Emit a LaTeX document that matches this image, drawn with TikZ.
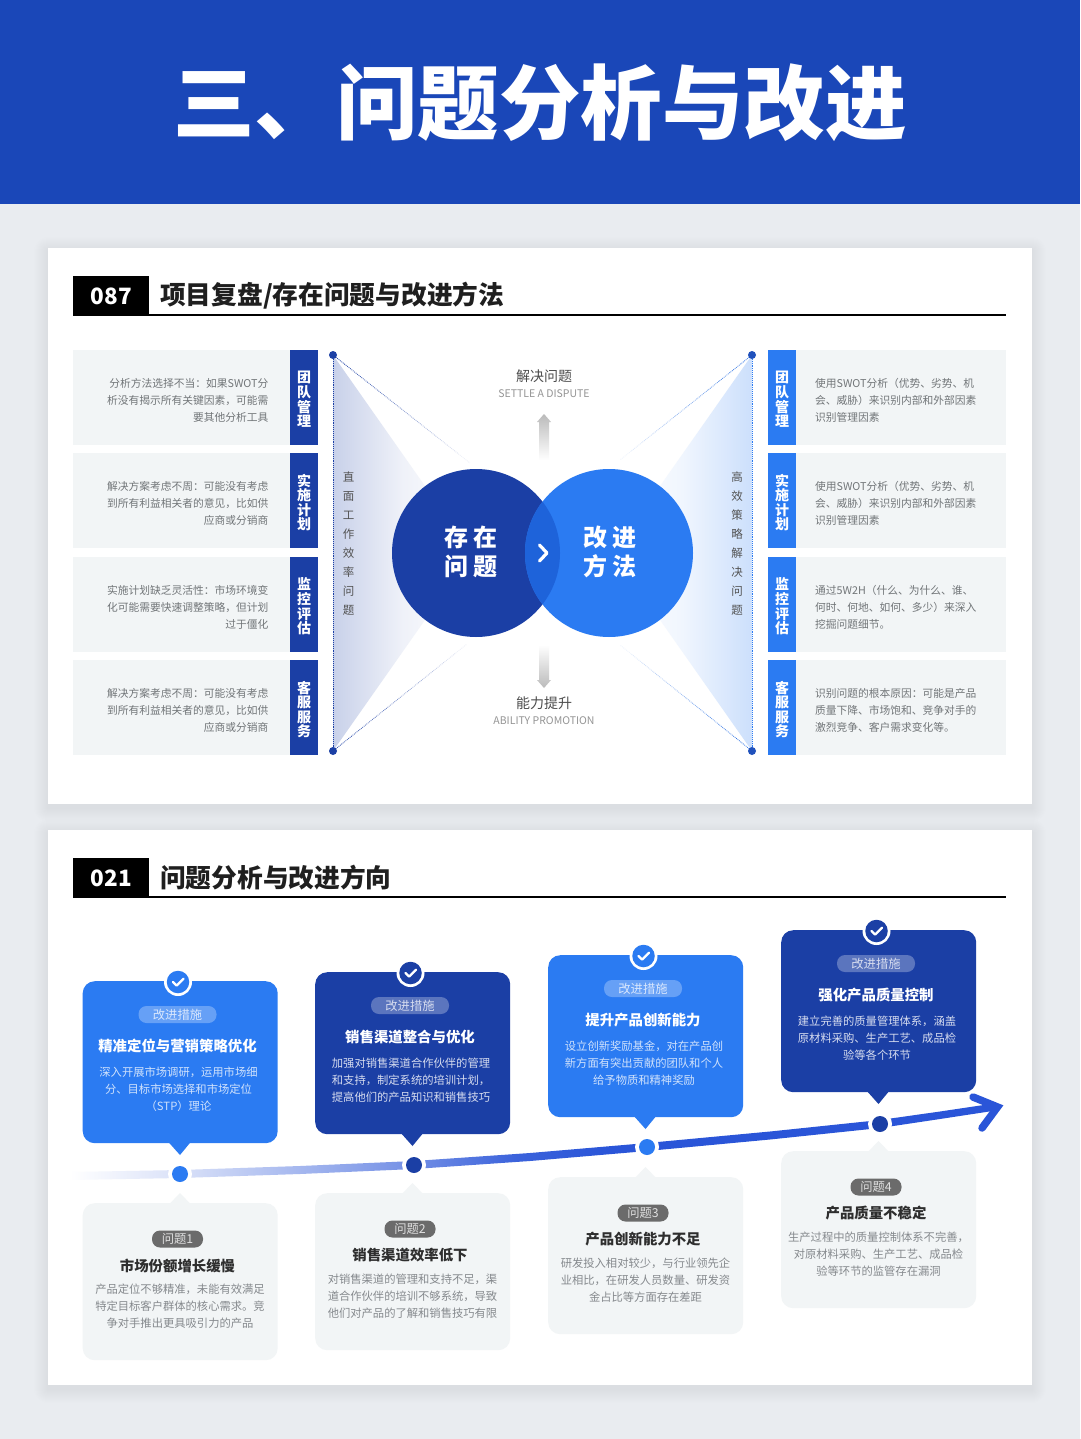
\documentclass[tikz,border=0pt]{standalone}
\usepackage{fontspec}
\setmainfont{Noto Sans CJK SC}
\usetikzlibrary{calc}
\definecolor{headblue}{HTML}{1A47B8}
\definecolor{pagebg}{HTML}{E9ECF0}
\definecolor{navy}{HTML}{1B3FA5}
\definecolor{azure}{HTML}{2B7BF2}
\definecolor{overlapblue}{HTML}{1E63DA}
\definecolor{panelgrey}{HTML}{F2F5F6}
\definecolor{bodygrey}{HTML}{85898D}
\definecolor{linestroke}{HTML}{2A55D8}
\pgfdeclarehorizontalshading{timelineshade}{100bp}{color(0bp)=(white); color(25bp)=(white); color(31bp)=(white!82!linestroke); color(43bp)=(white!36!linestroke); color(49bp)=(white!8!linestroke); color(54bp)=(linestroke); color(100bp)=(linestroke)}
\tikzset{
  rowbox/.style={fill=panelgrey,minimum width=#1,minimum height=95pt,inner sep=0pt,anchor=north west},
  tabbox/.style={minimum width=28pt,minimum height=95pt,inner sep=0pt,anchor=north west},
  tablabel/.style={text=white,align=center,inner sep=0pt,font=\fontsize{14}{14.6}\selectfont\bfseries},
  rowtext/.style={text=bodygrey!85!black,font=\fontsize{10.75}{17}\selectfont,inner sep=0pt},
  sidelabel/.style={text=black!68,align=center,inner sep=0pt,font=\fontsize{11.5}{19}\selectfont},
  cardbox/.style={minimum width=195pt,inner sep=0pt,anchor=north west,rounded corners=12pt},
  pilltag/.style={rounded corners=8pt,minimum width=#1,minimum height=17pt,inner sep=0pt,font=\fontsize{12.3}{13}\selectfont},
  cardhead/.style={font=\fontsize{14.4}{16}\selectfont\bfseries,inner sep=0pt},
  cardbody/.style={font=\fontsize{11.3}{17}\selectfont,align=center,inner sep=0pt},
  tagbox/.style={fill=black,text=white,minimum width=76pt,minimum height=40pt,inner sep=0pt,anchor=north west,font=\fontsize{22.5}{24}\selectfont\bfseries},
  sechead/.style={anchor=west,inner sep=0pt,font=\fontsize{25.7}{26}\selectfont\bfseries,text=black!88},
  bigtext/.style={text=white,align=center,inner sep=0pt,font=\fontsize{24}{29}\selectfont\bfseries},
  dirhead/.style={text=black!70,inner sep=0pt,font=\fontsize{14}{15}\selectfont},
  dirsub/.style={text=black!42,inner sep=0pt,font=\fontsize{10.5}{11}\selectfont},
}
% soft card shadow
\newcommand{\softcard}[3]{%
  \foreach \i in {1,...,14}{\fill[black,opacity=.005,rounded corners=\i pt] (48-\i,#1+3-\i) rectangle (1032+\i,#2+4+\i);}
  \fill[white] (48,#1) rectangle (1032,#2);
}
\newcommand{\leftrow}[5]{%
  \node[rowbox=217pt] (#1box) at (73,#2) {};
  \node[tabbox,fill=navy] (#1tab) at (290,#2) {};
  \node[tablabel] (#1lab) at (304,#2+49.5) {#3};
  \node[rowtext,align=right,anchor=east] (#1txt) at (268.5,#2+50) {#4\\#5};
}
\newcommand{\rightrow}[5]{%
  \node[rowbox=210pt] (#1box) at (796,#2) {};
  \node[tabbox,fill=azure] (#1tab) at (768,#2) {};
  \node[tablabel] (#1lab) at (782,#2+49.5) {#3};
  \node[rowtext,align=left,anchor=west] (#1txt) at (815,#2+50) {#4\\#5};
}
% #1 id, #2 x, #3 top, #4 colour, #5 pill fill, #6 title, #7 body, #8 body colour
\newcommand{\fixcard}[8]{%
  \fill[#4] (#2+85,#3+160) -- (#2+97.5,#3+174) -- (#2+109,#3+160) -- cycle;
  \node[cardbox,fill=#4,minimum height=162pt] (#1card) at (#2,#3) {};
  \node[circle,fill=white,minimum size=28pt,inner sep=0pt] (#1ring) at (#2+95.5,#3+1) {};
  \node[circle,fill=#4,minimum size=22.5pt,inner sep=0pt] (#1dot) at (#2+95.5,#3+1) {};
  \draw[white,line width=2.3pt,line cap=round,line join=round] (#2+90.5,#3+1) -- (#2+94.2,#3+4.6) -- (#2+101,#3-2.2);
  \node[pilltag=78pt,fill=#5,text=white!82!#4] (#1pill) at (#2+95,#3+33.5) {改进措施};
  \node[cardhead,text=white] (#1head) at (#2+95,#3+65) {#6};
  \node[cardbody,text=#8] (#1body) at (#2+96,#3+108.5) {#7};
}
% #1 id, #2 x, #3 top, #4 tag, #5 title, #6 body
\newcommand{\issuecard}[6]{%
  \fill[panelgrey] (#2+85,#3+3) -- (#2+97.5,#3-10) -- (#2+110,#3+3) -- cycle;
  \node[cardbox,fill=panelgrey,minimum height=157pt] (#1card) at (#2,#3) {};
  \node[pilltag=51pt,fill=black!58,text=white!88!black] (#1pill) at (#2+95,#3+36) {#4};
  \node[cardhead,text=black!82] (#1head) at (#2+95,#3+62.5) {#5};
  \node[cardbody,text=bodygrey] (#1body) at (#2+97.5,#3+103) {#6};
}
\newcommand{\fadeedge}[3]{%
  \foreach \t [evaluate=\t as \o using 1-\t, evaluate=\t as \e using \t+0.0834] in {0,0.0833,...,0.92}{
    \draw[#3,line width=.8pt,densely dotted,opacity=\o] ($(#1)!\t!(#2)$) -- ($(#1)!\e!(#2)$);}
}
\begin{document}
\begin{tikzpicture}[x=1pt,y=-1pt]
\useasboundingbox (0,0) rectangle (1080,1439);
\fill[pagebg] (0,0) rectangle (1080,1439);
\fill[headblue] (0,0) rectangle (1080,204);
\node[text=white,inner sep=0pt,font=\fontsize{81.5}{82}\selectfont\bfseries] (maintitle) at (540,103) {三、问题分析与改进};
\softcard{248}{804}{}
\softcard{830}{1385}{}
% section 1 header
\draw[black,line width=2.4pt] (73,315) -- (1006,315);
\node[tagbox] (tagA) at (73,276) {087};
\node[sechead] (headA) at (160,296) {项目复盘/存在问题与改进方法};
% rows
\leftrow{la}{350}{团\\队\\管\\理}{分析方法选择不当：如果SWOT分\\析没有揭示所有关键因素，可能需}{要其他分析工具}
\leftrow{lb}{453}{实\\施\\计\\划}{解决方案考虑不周：可能没有考虑\\到所有利益相关者的意见，比如供}{应商或分销商}
\leftrow{lc}{557}{监\\控\\评\\估}{实施计划缺乏灵活性：市场环境变\\化可能需要快速调整策略，但计划}{过于僵化}
\leftrow{ld}{660}{客\\服\\服\\务}{解决方案考虑不周：可能没有考虑\\到所有利益相关者的意见，比如供}{应商或分销商}
\rightrow{ra}{350}{团\\队\\管\\理}{使用SWOT分析（优势、劣势、机\\会、威胁）来识别内部和外部因素}{识别管理因素}
\rightrow{rb}{453}{实\\施\\计\\划}{使用SWOT分析（优势、劣势、机\\会、威胁）来识别内部和外部因素}{识别管理因素}
\rightrow{rc}{557}{监\\控\\评\\估}{通过5W2H（什么、为什么、谁、\\何时、何地、如何、多少）来深入}{挖掘问题细节。}
\rightrow{rd}{660}{客\\服\\服\\务}{识别问题的根本原因：可能是产品\\质量下降、市场饱和、竞争对手的}{激烈竞争、客户需求变化等。}
% funnels
\coordinate (fl1) at (333,355); \coordinate (fl2) at (333,751);
\coordinate (fl3) at (470,463); \coordinate (fl4) at (467,644);
\coordinate (fr1) at (752,355); \coordinate (fr2) at (752,751);
\coordinate (fr3) at (620,460); \coordinate (fr4) at (620,645);
\shade[left color=navy!24,right color=white,middle color=navy!7] (fl1) -- (472,553) -- (fl2) -- cycle;
\shade[left color=white,right color=azure!24,middle color=azure!7] (fr1) -- (613,553) -- (fr2) -- cycle;
\draw[navy,line width=.9pt,densely dotted] (fl1) -- (fl2);
\draw[azure,line width=.9pt,densely dotted] (fr1) -- (fr2);
\fadeedge{fl1}{fl3}{navy}
\fadeedge{fl2}{fl4}{navy}
\fadeedge{fr1}{fr3}{azure!80!navy}
\fadeedge{fr2}{fr4}{azure!80!navy}
\node[circle,fill=navy,minimum size=8pt,inner sep=0pt] (dotla) at (fl1) {};
\node[circle,fill=navy,minimum size=8pt,inner sep=0pt] (dotlb) at (fl2) {};
\node[circle,fill=navy!70!azure,minimum size=8pt,inner sep=0pt] (dotra) at (fr1) {};
\node[circle,fill=navy!70!azure,minimum size=8pt,inner sep=0pt] (dotrb) at (fr2) {};
\node[sidelabel] (sideL) at (348.5,544) {直\\面\\工\\作\\效\\率\\问\\题};
\node[sidelabel] (sideR) at (737,544) {高\\效\\策\\略\\解\\决\\问\\题};
% circles
\fill[navy] (476,553) circle[radius=84pt];
\fill[azure] (609,553) circle[radius=84pt];
\begin{scope}
\clip (476,553) circle[radius=84pt];
\fill[overlapblue] (609,553) circle[radius=84pt];
\end{scope}
\node[bigtext] (cirA) at (471,552) {存 在\\问 题};
\node[bigtext] (cirB) at (610,552) {改 进\\方 法};
\draw[white,line width=3.2pt,line cap=round,line join=round] (539.5,545) -- (547,553) -- (539.5,561);
% vertical arrows
\shade[top color=black!27,bottom color=white] (544,414) -- (551,422) -- (549,422) -- (549,460) -- (539,460) -- (539,422) -- (537,422) -- cycle;
\shade[top color=white,bottom color=black!27] (539,645) -- (549,645) -- (549,680) -- (551,680) -- (544,688) -- (537,680) -- (539,680) -- cycle;
\node[dirhead] (upA) at (544,376) {解决问题};
\node[dirsub] (upB) at (544,394) {SETTLE A DISPUTE};
\node[dirhead] (dnA) at (544,703) {能力提升};
\node[dirsub] (dnB) at (544,721) {ABILITY PROMOTION};
% section 2 header
\draw[black,line width=2.4pt] (73,897) -- (1006,897);
\node[tagbox] (tagB) at (73,858) {021};
\node[sechead] (headB) at (160,877.5) {问题分析与改进方向};
% timeline
\shade[shading=timelineshade] (70,1172) -- (180,1170) -- (300,1166) -- (414,1161) -- (530,1153) -- (647,1143) -- (770,1131.5) -- (880,1120) -- (940,1111.5) -- (997,1103) -- (999,1110) -- (940,1119) -- (880,1128) -- (770,1139.5) -- (647,1151) -- (530,1161) -- (414,1169) -- (300,1174) -- (180,1178) -- (70,1180) -- cycle;
\coordinate (tipU) at (973,1097); \coordinate (tip) at (997.5,1107); \coordinate (tipD) at (982,1128);
\draw[linestroke,line width=7.5pt,line cap=round,line join=miter] (tipU) -- (tip) -- (tipD);
% cards
\fixcard{fa}{82.5}{981}{azure}{white!28!azure}{精准定位与营销策略优化}{深入开展市场调研，运用市场细\\分、目标市场选择和市场定位\\（STP）理论}{white!78!azure}
\fixcard{fb}{315}{972}{navy}{white!28!navy}{销售渠道整合与优化}{加强对销售渠道合作伙伴的管理\\和支持，制定系统的培训计划，\\提高他们的产品知识和销售技巧}{white!82!navy}
\fixcard{fc}{548}{955}{azure}{white!28!azure}{提升产品创新能力}{设立创新奖励基金，对在产品创\\新方面有突出贡献的团队和个人\\给予物质和精神奖励}{white!78!azure}
\fixcard{fd}{781}{930}{navy}{white!28!navy}{强化产品质量控制}{建立完善的质量管理体系，涵盖\\原材料采购、生产工艺、成品检\\验等各个环节}{white!82!navy}
\issuecard{ia}{82.5}{1203}{问题1}{市场份额增长缓慢}{产品定位不够精准，未能有效满足\\特定目标客户群体的核心需求。竞\\争对手推出更具吸引力的产品}
\issuecard{ib}{315}{1193}{问题2}{销售渠道效率低下}{对销售渠道的管理和支持不足，渠\\道合作伙伴的培训不够系统，导致\\他们对产品的了解和销售技巧有限}
\issuecard{ic}{548}{1177}{问题3}{产品创新能力不足}{研发投入相对较少，与行业领先企\\业相比，在研发人员数量、研发资\\金占比等方面存在差距}
\issuecard{id}{781}{1151}{问题4}{产品质量不稳定}{生产过程中的质量控制体系不完善，\\对原材料采购、生产工艺、成品检\\验等环节的监管存在漏洞}
% timeline nodes
\foreach \n/\px/\py/\c in {a/180/1174/azure,b/414/1165/navy,c/647/1147/azure,d/880/1124/navy}{
  \node[circle,fill=white,minimum size=24pt,inner sep=0pt] (ring\n) at (\px,\py) {};
  \node[circle,fill=\c,minimum size=16pt,inner sep=0pt] (pt\n) at (\px,\py) {};
}
\end{tikzpicture}
\end{document}
